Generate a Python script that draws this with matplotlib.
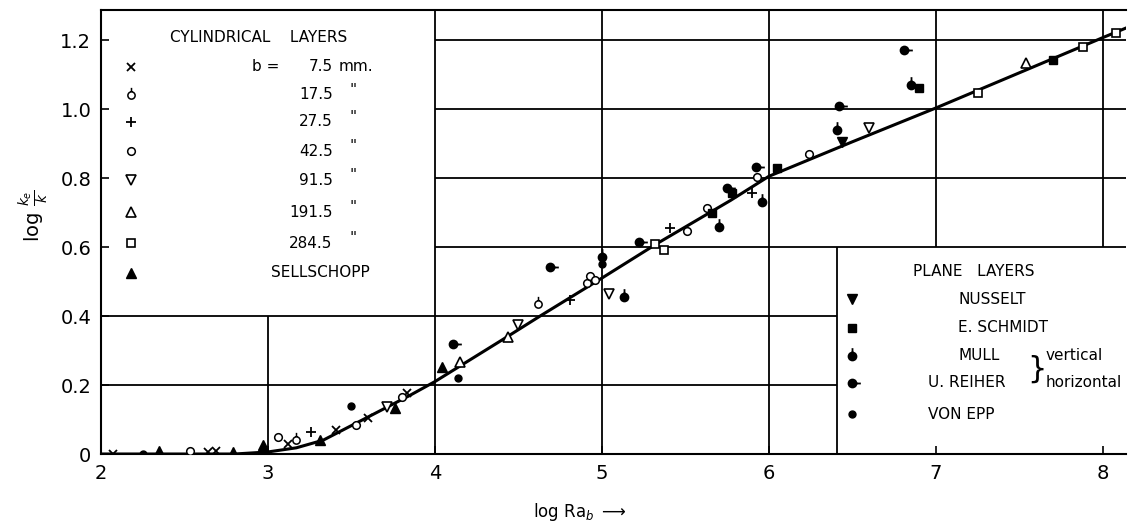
import numpy as np
import matplotlib
matplotlib.use("Agg")
import matplotlib.pyplot as plt
from matplotlib.path import Path

plt.rcParams['font.family'] = ['DejaVu Sans']
plt.rcParams['mathtext.fontset'] = 'dejavusans'

# correlation curve
curve_x = [2.0, 2.5, 2.8, 3.0, 3.17, 3.33, 3.53, 3.69, 3.85, 4.0, 4.2, 4.4, 4.63,
           5.0, 5.33, 5.77, 6.0, 6.5, 7.0, 7.5, 8.0, 8.14]
curve_y = [0.0, 0.0, 0.0, 0.006, 0.018, 0.04, 0.09, 0.13, 0.17, 0.21, 0.27, 0.33, 0.40,
           0.51, 0.61, 0.735, 0.805, 0.905, 1.003, 1.105, 1.207, 1.235]

# cylindrical layers
b75_x = [2.07, 2.64, 2.69, 3.12, 3.41, 3.60, 3.83]
b75_y = [0.0, 0.005, 0.01, 0.03, 0.07, 0.105, 0.177]
b175_x = [3.17, 4.62]
b175_y = [0.04, 0.435]
b275_x = [3.26, 4.81, 5.41, 5.90]
b275_y = [0.064, 0.446, 0.655, 0.756]
b425_x = [2.53, 3.06, 3.53, 3.80, 4.91, 4.93, 4.96, 5.51, 5.63, 5.93, 6.24]
b425_y = [0.008, 0.05, 0.085, 0.165, 0.497, 0.516, 0.504, 0.647, 0.713, 0.803, 0.87]
b915_x = [3.71, 4.50, 5.04, 6.60]
b915_y = [0.137, 0.374, 0.464, 0.944]
b1915_x = [4.15, 4.44, 7.54]
b1915_y = [0.267, 0.34, 1.133]
b2845_x = [5.32, 5.37, 7.25, 7.88, 8.08]
b2845_y = [0.61, 0.59, 1.047, 1.18, 1.22]
sell_x = [2.35, 2.79, 2.97, 3.31, 3.76, 4.04]
sell_y = [0.01, 0.005, 0.025, 0.04, 0.133, 0.252]

# plane layers
nuss_x = [6.44]
nuss_y = [0.905]
schm_x = [5.66, 5.78, 6.05, 6.90, 7.70]
schm_y = [0.698, 0.756, 0.829, 1.062, 1.142]
mull_x = [5.0, 5.13, 5.70, 5.96, 6.41, 6.85]
mull_y = [0.57, 0.455, 0.658, 0.73, 0.939, 1.07]
reih_x = [4.11, 4.69, 5.22, 5.75, 5.92, 6.42, 6.81]
reih_y = [0.32, 0.543, 0.615, 0.771, 0.832, 1.01, 1.171]
epp_x = [2.25, 3.50, 4.14, 5.0]
epp_y = [0.0, 0.14, 0.22, 0.55]

xticks = [2, 3, 4, 5, 6, 7, 8]
yticks = [0, 0.2, 0.4, 0.6, 0.8, 1.0, 1.2]
ytick_labels = ['0', '0.2', '0.4', '0.6', '0.8', '1.0', '1.2']

# markers: circle with a stem up / stem to the right
circ = Path.unit_circle()
stem_up = Path.make_compound_path(circ, Path([(0, 1), (0, 2.1)], [Path.MOVETO, Path.LINETO]))
stem_right = Path.make_compound_path(circ, Path([(1, 0), (2.1, 0)], [Path.MOVETO, Path.LINETO]))

styles = {
    'b75': dict(marker='x', ms=6, mfc='none', mec='k', mew=1.3),
    'b175': dict(marker=stem_up, ms=11, mfc='white', mec='k', mew=1.1),
    'b275': dict(marker='+', ms=7, mfc='none', mec='k', mew=1.3),
    'b425': dict(marker='o', ms=5.5, mfc='white', mec='k', mew=1.1),
    'b915': dict(marker='v', ms=7, mfc='white', mec='k', mew=1.2),
    'b1915': dict(marker='^', ms=7, mfc='white', mec='k', mew=1.2),
    'b2845': dict(marker='s', ms=5.5, mfc='white', mec='k', mew=1.2),
    'sell': dict(marker='^', ms=7.5, mfc='k', mec='k', mew=1.0),
    'nuss': dict(marker='v', ms=7, mfc='k', mec='k', mew=1.0),
    'schm': dict(marker='s', ms=5.5, mfc='k', mec='k', mew=1.0),
    'mull': dict(marker=stem_up, ms=12, mfc='k', mec='k', mew=1.3),
    'reih': dict(marker=stem_right, ms=12, mfc='k', mec='k', mew=1.3),
    'epp': dict(marker='o', ms=5, mfc='k', mec='k', mew=1.0),
}

fig = plt.figure(figsize=(11.29, 5.27), dpi=100)
ax = fig.add_axes([0.0895, 0.1385, 0.908, 0.8425])
ax.set_xlim(2, 8.14)
ax.set_ylim(0, 1.287)

# grid, broken where the two key boxes sit
gkw = dict(color='k', lw=1.3, zorder=1)
ax.vlines(3, 0, 0.4, **gkw)
ax.vlines([4, 5, 6], 0, 1.287, **gkw)
ax.vlines([7, 8], 0.6, 1.287, **gkw)
ax.hlines([0.2, 0.4], 2, 6.41, **gkw)
ax.hlines([0.6, 0.8, 1.0, 1.2], 4, 8.14, **gkw)
ax.vlines(6.41, 0, 0.6, **gkw)

ax.plot(curve_x, curve_y, color='k', lw=2.2, zorder=2)

series = [(b75_x, b75_y, 'b75'), (b175_x, b175_y, 'b175'), (b275_x, b275_y, 'b275'),
          (b425_x, b425_y, 'b425'), (b915_x, b915_y, 'b915'), (b1915_x, b1915_y, 'b1915'),
          (b2845_x, b2845_y, 'b2845'), (sell_x, sell_y, 'sell'), (nuss_x, nuss_y, 'nuss'),
          (schm_x, schm_y, 'schm'), (mull_x, mull_y, 'mull'), (reih_x, reih_y, 'reih'),
          (epp_x, epp_y, 'epp')]
for xs, ys, key in series:
    ax.plot(xs, ys, ls='none', zorder=3, **styles[key])

ax.spines['right'].set_visible(False)
for s in ['left', 'bottom', 'top']:
    ax.spines[s].set_linewidth(1.5)
ax.set_xticks(xticks)
ax.set_yticks(yticks)
ax.set_yticklabels(ytick_labels)
ax.tick_params(direction='in', length=6, width=1.2, labelsize=14, pad=7)

# cylindrical key
T = ax.transAxes
fs = 11
ax.text(0.154, 0.939, 'CYLINDRICAL    LAYERS', transform=T, fontsize=fs, va='center', ha='center')
cyl_rows = [('b75', '7.5'), ('b175', '17.5'), ('b275', '27.5'), ('b425', '42.5'),
            ('b915', '91.5'), ('b1915', '191.5'), ('b2845', '284.5')]
cyl_y = [0.872, 0.809, 0.748, 0.682, 0.617, 0.545, 0.475]
for (key, lab), yy in zip(cyl_rows, cyl_y):
    ax.plot([0.029], [yy], transform=T, ls='none', clip_on=False, **styles[key])
    ax.text(0.226, yy, lab, transform=T, fontsize=fs, ha='right', va='center')
    if key == 'b75':
        ax.text(0.232, yy, 'mm.', transform=T, fontsize=fs, ha='left', va='center')
        ax.text(0.147, yy, 'b =', transform=T, fontsize=fs, ha='left', va='center')
    else:
        ax.text(0.246, yy + 0.01, '"', transform=T, fontsize=fs, ha='center', va='center')
ax.plot([0.029], [0.408], transform=T, ls='none', **styles['sell'])
ax.text(0.214, 0.408, 'SELLSCHOPP', transform=T, fontsize=fs, ha='center', va='center')

# plane key
ax.text(0.851, 0.412, 'PLANE   LAYERS', transform=T, fontsize=fs, ha='center', va='center')
pl_rows = [('nuss', 'NUSSELT', 0.836), ('schm', 'E. SCHMIDT', 0.836), ('mull', 'MULL', 0.836),
           ('reih', 'U. REIHER', 0.807), ('epp', 'VON EPP', 0.807)]
pl_y = [0.349, 0.284, 0.221, 0.160, 0.090]
for (key, lab, xx), yy in zip(pl_rows, pl_y):
    ax.plot([0.733], [yy], transform=T, ls='none', **styles[key])
    ax.text(xx, yy, lab, transform=T, fontsize=fs, ha='left', va='center')
ax.text(0.913, 0.19, '}', transform=T, fontsize=22, ha='center', va='center')
ax.text(0.921, 0.221, 'vertical', transform=T, fontsize=fs, ha='left', va='center')
ax.text(0.921, 0.160, 'horizontal', transform=T, fontsize=fs, ha='left', va='center')

fig.text(0.03, 0.59, r'$\log\,\frac{k_e}{k}$', rotation=90, fontsize=14, ha='center', va='center')
fig.text(0.514, 0.028, r'log Ra$_b$ $\longrightarrow$', fontsize=12, ha='center', va='center')

fig.savefig('out.png', dpi=100)
